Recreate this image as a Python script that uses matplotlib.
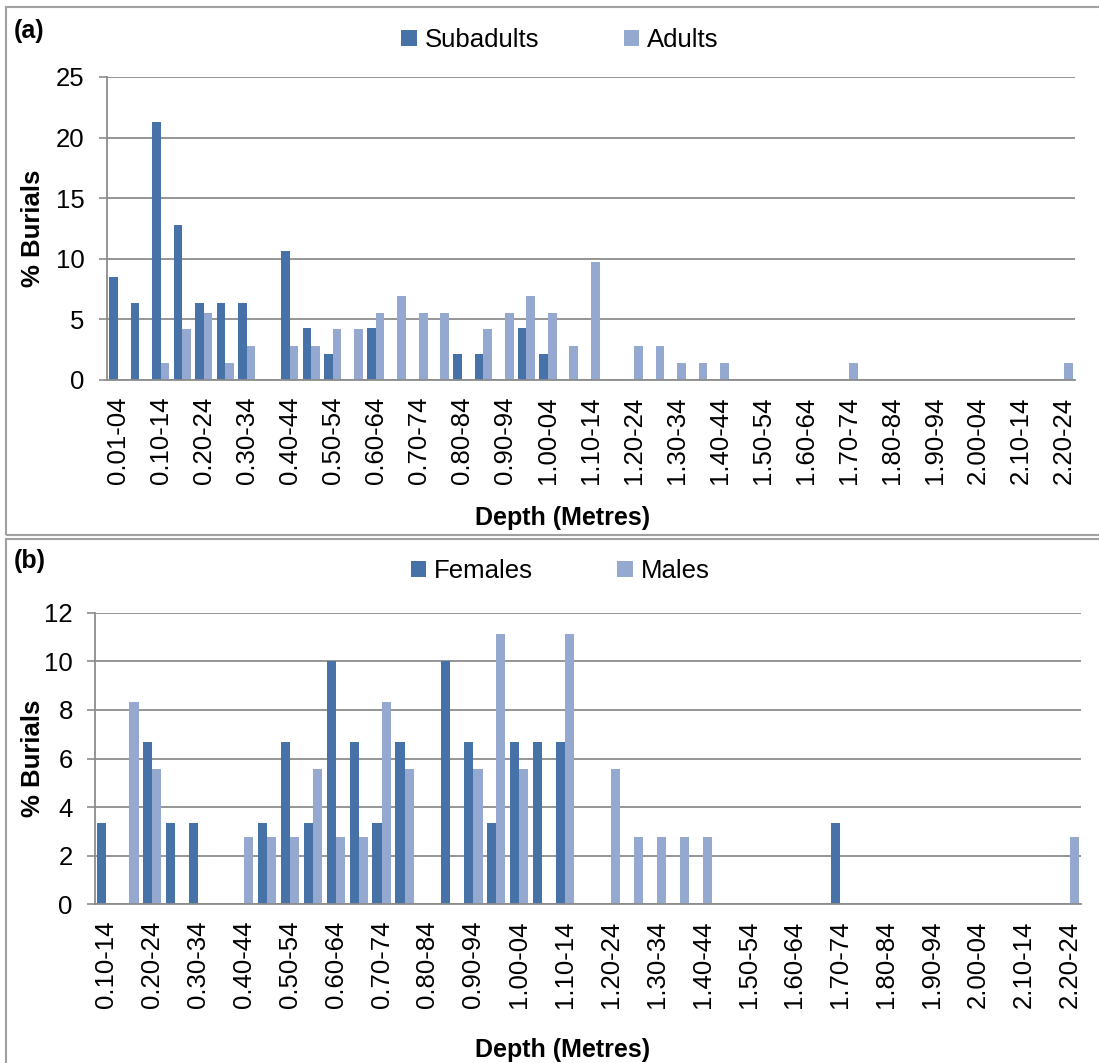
import matplotlib.pyplot as plt
from matplotlib.patches import Rectangle
import numpy as np

plt.rcParams["font.family"] = ["Liberation Sans", "DejaVu Sans"]

# depth classes (labels shown for every second class)
labels_a = ["0.01-04"] + ["%.2f-%02d" % (d / 100, (d + 4) % 100) for d in range(5, 225, 5)]
labels_b = ["%.2f-%02d" % (d / 100, (d + 4) % 100) for d in range(10, 225, 5)]

# (a) % burials per depth class
subadults = [8.51, 6.38, 21.28, 12.77, 6.38, 6.38, 6.38, 0, 10.64, 4.26,
             2.13, 0, 4.26, 0, 0, 0, 2.13, 2.13, 0, 4.26,
             2.13, 0, 0, 0, 0, 0, 0, 0, 0, 0,
             0, 0, 0, 0, 0, 0, 0, 0, 0, 0,
             0, 0, 0, 0, 0]
adults = [0, 0, 1.39, 4.17, 5.56, 1.39, 2.78, 0, 2.78, 2.78,
          4.17, 4.17, 5.56, 6.94, 5.56, 5.56, 0, 4.17, 5.56, 6.94,
          5.56, 2.78, 9.72, 0, 2.78, 2.78, 1.39, 1.39, 1.39, 0,
          0, 0, 0, 0, 1.39, 0, 0, 0, 0, 0,
          0, 0, 0, 0, 1.39]

# (b) % burials per depth class
females = [3.33, 0, 6.67, 3.33, 3.33, 0, 0, 3.33, 6.67, 3.33,
           10.0, 6.67, 3.33, 6.67, 0, 10.0, 6.67, 3.33, 6.67, 6.67,
           6.67, 0, 0, 0, 0, 0, 0, 0, 0, 0,
           0, 0, 3.33, 0, 0, 0, 0, 0, 0, 0,
           0, 0, 0]
males = [0, 8.33, 5.56, 0, 0, 0, 2.78, 2.78, 2.78, 5.56,
         2.78, 2.78, 8.33, 5.56, 0, 0, 5.56, 11.11, 5.56, 0,
         11.11, 0, 5.56, 2.78, 2.78, 2.78, 2.78, 0, 0, 0,
         0, 0, 0, 0, 0, 0, 0, 0, 0, 0,
         0, 0, 2.78]

DARK = "#4672A8"
LIGHT = "#95A9D0"
GRID = "#8c8c8c"
FS = 18.5

W, H = 1099, 1063
fig = plt.figure(figsize=(W / 100, H / 100), dpi=100)

# panel frames (right and lower edges run off the picture)
for y0, y1 in [(7, 535), (539, 1075)]:
    fig.patches.append(Rectangle((6 / W, 1 - y1 / H), (W + 10) / W, (y1 - y0) / H,
                                 transform=fig.transFigure, fill=False,
                                 edgecolor="#a0a0a0", linewidth=1.5))


def panel(rect, labels, s1, s2, names, ymax, ystep, tag, tag_y, leg_y, xlab_y):
    ax = fig.add_axes(rect)
    x = np.arange(len(labels))
    w = 0.4
    ax.bar(x - w / 2, s1, w, color=DARK, label=names[0], zorder=3)
    ax.bar(x + w / 2, s2, w, color=LIGHT, label=names[1], zorder=3)
    ax.set_xlim(-0.5, len(labels) - 0.5)
    ax.set_ylim(0, ymax)
    ax.set_yticks(np.arange(0, ymax + 0.1, ystep))
    ax.set_xticks(x[::2])
    ax.set_xticklabels(labels[::2], rotation=90, fontsize=FS)
    ax.tick_params(axis="x", length=0, pad=12)
    ax.tick_params(axis="y", length=6, width=1.2, color=GRID, labelsize=FS, pad=10)
    ax.grid(axis="y", color=GRID, linewidth=1.3, zorder=0)
    for s in ["top", "right"]:
        ax.spines[s].set_visible(False)
    for s in ["left", "bottom"]:
        ax.spines[s].set_color(GRID)
        ax.spines[s].set_linewidth(1.3)
    ax.spines["bottom"].set_zorder(4)

    fig.text(33 / W, (rect[1] + rect[3] / 2), "% Burials", rotation=90,
             ha="center", va="center", fontsize=FS, fontweight="bold")
    fig.text(563 / W, xlab_y, "Depth (Metres)", ha="center", va="center",
             fontsize=FS - 0.5, fontweight="bold")
    fig.text(14 / W, tag_y, tag, ha="left", va="center",
             fontsize=FS - 0.5, fontweight="bold")
    fig.legend(*ax.get_legend_handles_labels(), loc="center",
               bbox_to_anchor=(560 / W, leg_y), ncol=2, frameon=False,
               fontsize=FS, handlelength=0.6, handleheight=0.6,
               handletextpad=0.3, columnspacing=3.3)
    return ax


panel([107 / W, 1 - 380 / H, 968 / W, 303 / H], labels_a, subadults, adults,
      ["Subadults", "Adults"], 25, 5, "(a)", 1 - 31 / H, 1 - 40 / H, 1 - 518 / H)
panel([95 / W, 1 - 904.3 / H, 986 / W, 291.6 / H], labels_b, females, males,
      ["Females", "Males"], 12, 2, "(b)", 1 - 561 / H, 1 - 571 / H, 1 - 1050 / H)

fig.savefig("out.png", dpi=100)
